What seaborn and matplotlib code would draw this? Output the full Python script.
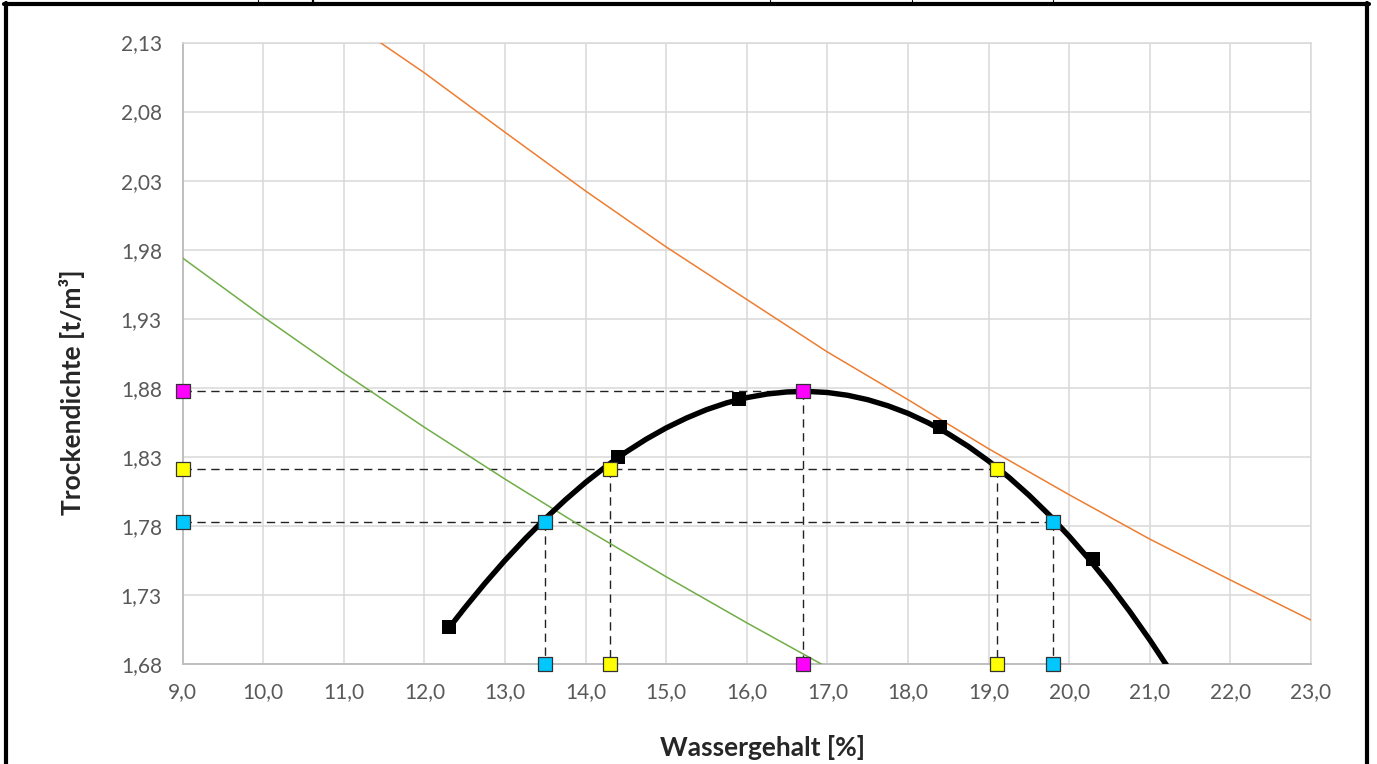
import numpy as np
import pandas as pd
import matplotlib
matplotlib.use("Agg")
import matplotlib.pyplot as plt
from matplotlib.ticker import MultipleLocator, FuncFormatter
from matplotlib.lines import Line2D
import seaborn as sns

# Proctor test points (Wassergehalt %, Trockendichte t/m3)
w_mess = [12.3, 14.4, 15.9, 18.4, 20.3]
rho_mess = [1.707, 1.830, 1.872, 1.852, 1.756]

# Proctor curve (every 0,25 %)
w_kurve = [12.3, 12.5, 12.75, 13.0, 13.25, 13.5, 13.75, 14.0, 14.25, 14.5, 14.75,
           15.0, 15.25, 15.5, 15.75, 16.0, 16.25, 16.5, 16.75, 17.0, 17.25, 17.5,
           17.75, 18.0, 18.25, 18.5, 18.75, 19.0, 19.25, 19.5, 19.75, 20.0, 20.25,
           20.5, 20.75, 21.0, 21.25, 21.3]
rho_kurve = [1.7060, 1.7209, 1.7386, 1.7553, 1.7709, 1.7855, 1.7991, 1.8117,
             1.8231, 1.8336, 1.8429, 1.8511, 1.8582, 1.8643, 1.8692, 1.8730,
             1.8756, 1.8771, 1.8775, 1.8767, 1.8747, 1.8715, 1.8671, 1.8616,
             1.8548, 1.8468, 1.8376, 1.8271, 1.8154, 1.8024, 1.7882, 1.7726,
             1.7558, 1.7377, 1.7183, 1.6976, 1.6756, 1.6710]

# saturation line (orange)
w_sat = [11.45, 12, 13, 14, 15, 16, 17, 18, 19, 20, 21, 22, 23]
rho_sat = [2.130, 2.108, 2.065, 2.0225, 1.982, 1.944, 1.906, 1.8715, 1.836,
           1.8027, 1.7706, 1.741, 1.712]

# second line (green)
w_gr = [9, 10, 11, 12, 13, 14, 15, 16, 16.93]
rho_gr = [1.974, 1.9314, 1.8906, 1.8515, 1.814, 1.7779, 1.7433, 1.710, 1.680]

# marked levels: optimum and the two lower density levels
level_rho = [1.8775, 1.8213, 1.7833]
level_w = [[16.7], [14.3, 19.1], [13.5, 19.8]]
level_col = ["#FF00FF", "#FFFF00", "#00C8FF"]

xmin, xmax = 9.0, 23.0
ymin, ymax = 1.68, 2.13

sns.set_style("white")
plt.rcParams["font.family"] = ["Lato", "DejaVu Sans"]

fig = plt.figure(figsize=(13.77, 7.64), dpi=100)
ax = fig.add_axes([182.7 / 1377, 1 - 664.3 / 764, (1311 - 182.7) / 1377, (664.3 - 42.5) / 764])

# dashed guide lines
for rho, ws in zip(level_rho, level_w):
    ax.plot([xmin, max(ws)], [rho, rho], color="#222222", lw=1.0,
            ls=(0, (6, 4)), zorder=3)
    for w in ws:
        ax.plot([w, w], [rho, ymin], color="#222222", lw=1.0,
                ls=(0, (6, 4)), zorder=3)

df_sat = pd.DataFrame({"w": w_sat, "rho": rho_sat})
df_gr = pd.DataFrame({"w": w_gr, "rho": rho_gr})
df_k = pd.DataFrame({"w": w_kurve, "rho": rho_kurve})
df_m = pd.DataFrame({"w": w_mess, "rho": rho_mess})

sns.lineplot(data=df_sat, x="w", y="rho", sort=False, color="#ED7D31", lw=1.1, ax=ax, zorder=4)
sns.lineplot(data=df_gr, x="w", y="rho", sort=False, color="#70AD47", lw=1.1, ax=ax, zorder=4)
sns.lineplot(data=df_k, x="w", y="rho", sort=False, color="black", lw=3.9, ax=ax, zorder=5,
             solid_capstyle="butt", solid_joinstyle="round")
sns.scatterplot(data=df_m, x="w", y="rho", marker="s", s=100, color="black",
                edgecolor="black", linewidth=0, ax=ax, zorder=6)

for rho, ws, c in zip(level_rho, level_w, level_col):
    pts_w = ws + [xmin] + ws
    pts_r = [rho] * len(ws) + [rho] + [ymin] * len(ws)
    sns.scatterplot(x=pts_w, y=pts_r, marker="s", s=90, color=c,
                    edgecolor="#333333", linewidth=0.9, ax=ax, zorder=7, clip_on=False)

ax.set_xlim(xmin, xmax)
ax.set_ylim(ymin, ymax)
ax.xaxis.set_major_locator(MultipleLocator(1.0))
ax.xaxis.set_minor_locator(MultipleLocator(0.2))
ax.yaxis.set_minor_locator(MultipleLocator(0.01))
ax.set_yticks(np.round(np.arange(ymin, ymax + 0.001, 0.05), 2))
ax.xaxis.set_major_formatter(FuncFormatter(lambda v, p: f"{v:.1f}".replace(".", ",")))
ax.yaxis.set_major_formatter(FuncFormatter(lambda v, p: f"{v:.2f}".replace(".", ",")))

ax.grid(True, which="major", color="#D9D9D9", lw=1.1)
ax.set_axisbelow(True)
for side in ["top", "right"]:
    ax.spines[side].set_color("#D9D9D9")
    ax.spines[side].set_linewidth(1.1)
for side in ["left", "bottom"]:
    ax.spines[side].set_color("#BFBFBF")
    ax.spines[side].set_linewidth(1.4)

ax.tick_params(which="major", length=0, labelsize=15, labelcolor="#595959")
ax.tick_params(axis="x", which="major", pad=13)
ax.tick_params(axis="y", which="major", pad=15)
ax.tick_params(which="minor", direction="in", length=3.5, width=1.0, color="#BFBFBF",
               top=False, right=False)

ax.set_xlabel("Wassergehalt [%]", fontsize=19, fontweight="bold", va="center")
ax.set_ylabel("Trockendichte [t/m³]", fontsize=19, fontweight="bold", va="center", ha="center")
ax.xaxis.set_label_coords(0.514, -0.1346)
ax.yaxis.set_label_coords(-0.0985, 0.438)

# frame around the figure (cell border)
W, H = 1377.0, 764.0
fig.add_artist(Line2D([6 / W, 6 / W], [0, 1 - 3 / H], color="black", lw=3.0))
fig.add_artist(Line2D([1367 / W, 1367 / W], [0, 1 - 3 / H], color="black", lw=3.0))
fig.add_artist(Line2D([4 / W, 1369 / W], [1 - 4 / H, 1 - 4 / H], color="black", lw=3.0))
for xv, lw in [(258, 0.8), (313, 1.6), (770, 0.8), (912, 0.8), (1053, 0.8)]:
    fig.add_artist(Line2D([xv / W, xv / W], [1 - 4 / H, 1], color="black", lw=lw))

fig.savefig("out.png", dpi=100)
